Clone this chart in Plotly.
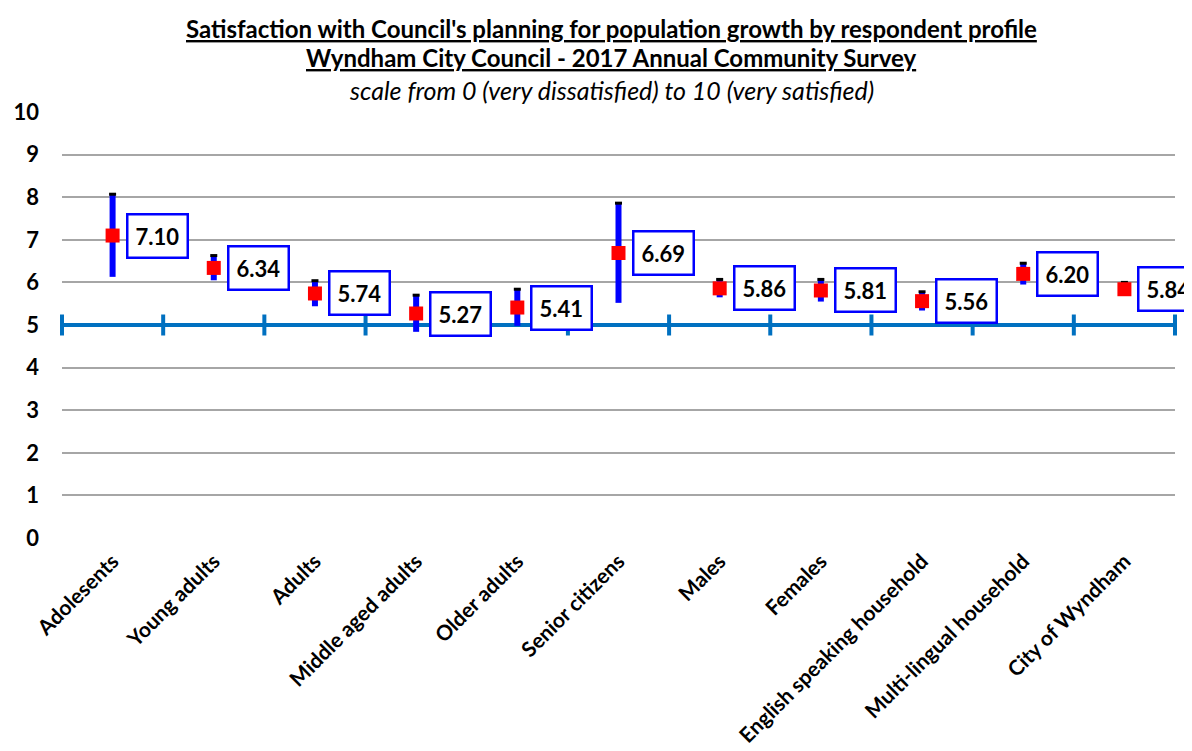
import plotly.graph_objects as go

categories = ["Adolesents", "Young adults", "Adults", "Middle aged adults", "Older adults",
              "Senior citizens", "Males", "Females", "English speaking household",
              "Multi-lingual household", "City of Wyndham"]
means = [7.10, 6.34, 5.74, 5.27, 5.41, 6.69, 5.86, 5.81, 5.56, 6.20, 5.84]
ci_half = [0.97, 0.29, 0.30, 0.43, 0.43, 1.17, 0.21, 0.26, 0.22, 0.25, 0.16]
reference_value = 5
y_ticks = list(range(0, 11))

FONT = "Lato"
n = len(categories)
xs = list(range(n))

fig = go.Figure()

# reference line at 5 with boundary ticks
bounds = [i - 0.5 for i in range(n + 1)]
fig.add_trace(go.Scatter(
    x=bounds, y=[reference_value] * len(bounds), mode="lines+markers",
    line=dict(color="#0070C0", width=4),
    marker=dict(symbol="line-ns", size=15, line=dict(color="#0070C0", width=4)),
    hoverinfo="skip", showlegend=False, cliponaxis=False))

# error bars
fig.add_trace(go.Scatter(
    x=xs, y=means, mode="markers",
    marker=dict(size=0.1, color="rgba(0,0,0,0)"),
    error_y=dict(type="data", array=ci_half, visible=True, color="#0000FF",
                 thickness=6, width=0),
    showlegend=False, hoverinfo="skip"))

# black caps at top
fig.add_trace(go.Scatter(
    x=xs, y=[m + c for m, c in zip(means, ci_half)], mode="markers",
    marker=dict(symbol="line-ew", size=5, line=dict(color="black", width=3)),
    showlegend=False, hoverinfo="skip"))

# mean markers
fig.add_trace(go.Scatter(
    x=xs, y=means, mode="markers",
    marker=dict(symbol="square", size=14, color="#FF0000"),
    showlegend=False))

for x, m in zip(xs, means):
    fig.add_annotation(
        x=x, y=m, xref="x", yref="y", text=f"<b>{m:.2f}</b>", showarrow=False,
        xanchor="left", yanchor="middle", xshift=13,
        font=dict(family=FONT, size=22, color="black"),
        bgcolor="white", bordercolor="#0000FF", borderwidth=2.5, borderpad=7)

fig.add_annotation(x=0.494, y=1.197, xref="paper", yref="paper", showarrow=False,
                   text="<b><u>Satisfaction with Council's planning for population growth by respondent profile</u></b>",
                   font=dict(family=FONT, size=24, color="black"), yanchor="middle")
fig.add_annotation(x=0.494, y=1.127, xref="paper", yref="paper", showarrow=False,
                   text="<b><u>Wyndham City Council - 2017 Annual Community Survey</u></b>",
                   font=dict(family=FONT, size=24, color="black"), yanchor="middle")
fig.add_annotation(x=0.494, y=1.052, xref="paper", yref="paper", showarrow=False,
                   text="<i>scale from 0 (very dissatisfied) to 10 (very satisfied)</i>",
                   font=dict(family=FONT, size=25, color="black"), yanchor="middle")

fig.update_layout(
    width=1192, height=751,
    margin=dict(l=54, r=25, t=104, b=221, autoexpand=False),
    plot_bgcolor="white", paper_bgcolor="white",
    showlegend=False,
    xaxis=dict(range=[-0.5, n - 0.5], tickvals=xs, ticktext=[f"<b>{c}</b>" for c in categories],
               tickangle=-45, automargin=False, ticklabelstandoff=6,
               showgrid=False, zeroline=False, showline=False, ticks="",
               tickfont=dict(family=FONT, size=21, color="black")),
    yaxis=dict(range=[0, 10], tickvals=y_ticks, ticktext=[f"<b>{t}</b>" for t in y_ticks],
               showgrid=True, gridcolor="#A6A6A6", automargin=False,
               gridwidth=1.5, zeroline=False, showline=False, ticks="",
               ticklabelstandoff=22,
               tickfont=dict(family=FONT, size=22, color="black")),
)

fig.write_html("out.html")
